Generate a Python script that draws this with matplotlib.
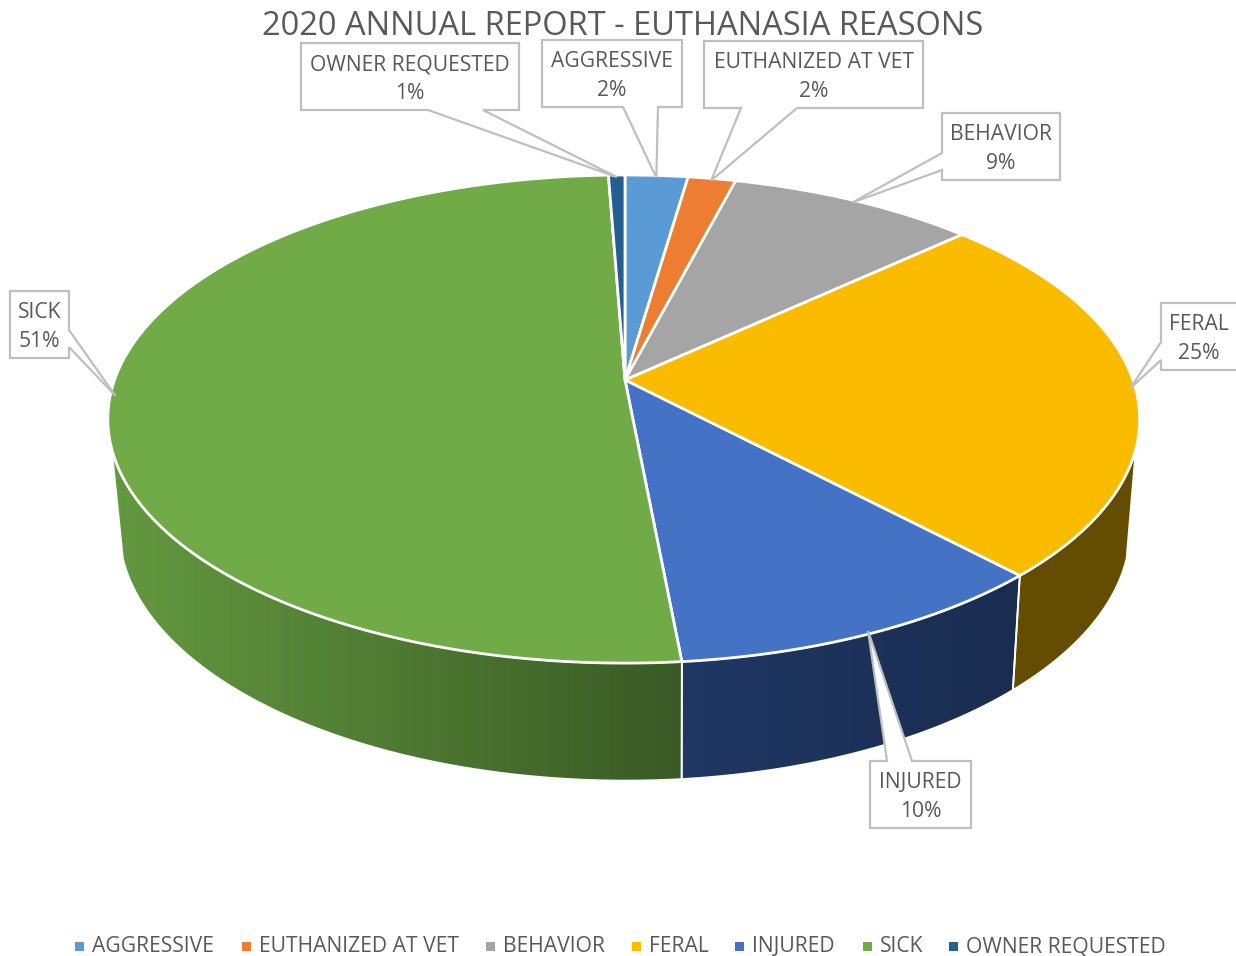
import numpy as np
import matplotlib
matplotlib.use("Agg")
import matplotlib.pyplot as plt
from matplotlib.patches import Polygon

categories = ["AGGRESSIVE", "EUTHANIZED AT VET", "BEHAVIOR", "FERAL", "INJURED", "SICK", "OWNER REQUESTED"]
values = [2.3, 1.75, 9.1, 24.8, 10.55, 50.9, 0.6]
pct_labels = ["2%", "2%", "9%", "25%", "10%", "51%", "1%"]
colors = ["#5B9BD5", "#ED7D31", "#A5A5A5", "#FBBC00", "#4472C4", "#70AB47", "#255E91"]
legend_x = [75, 242, 486, 632, 735, 863, 949]

TEXT = "#595959"
BORDER = "#BFBFBF"
FONT = "Open Sans"

# perspective of the disc, in pixels
CX, CY = 625, 380
A_RIGHT, A_LEFT, B, K = 508, 510.5, 237.8, 0.16
SIDE_START, SIDE_END = 106, 254


def top_edge(deg):
    t = np.radians(deg)
    u, v = np.sin(t), -np.cos(t)
    w = 1 - K * v
    return CX + np.where(u < 0, A_LEFT, A_RIGHT) * u / w, CY + B * v / w


def bottom_edge(deg):
    x, y = top_edge(deg)
    return 623 + 0.98 * (x - 623) + 1, y + 114.5 + 0.035 * (y - 577)


def arc(func, a, b):
    xs, ys = func(np.linspace(a, b, 200))
    return np.column_stack([xs, ys])


def callout(box, base, tip, side):
    x0, y0, x1, y1 = box
    b0, b1 = base
    if side == "bottom":
        pts = [(x0, y0), (x1, y0), (x1, y1), (b1, y1), tip, (b0, y1), (x0, y1)]
    elif side == "top":
        pts = [(x0, y0), (b0, y0), tip, (b1, y0), (x1, y0), (x1, y1), (x0, y1)]
    elif side == "left":
        pts = [(x0, y0), (x1, y0), (x1, y1), (x0, y1), (x0, b1), tip, (x0, b0)]
    else:
        pts = [(x0, y0), (x1, y0), (x1, b0), tip, (x1, b1), (x1, y1), (x0, y1)]
    ax.add_patch(Polygon(pts, closed=True, fc="white", ec=BORDER, lw=1.6, zorder=5, clip_on=False))
    return (x0 + x1) / 2, y0


fig = plt.figure(figsize=(12.36, 9.56), dpi=100)
ax = fig.add_axes([0, 0, 1, 1])
ax.axis("off")

cum = np.concatenate([[0], np.cumsum(values)]) / np.sum(values) * 360

# side wall, only the three front slices show
side_gradients = {"SICK": ("#63993F", "#3A5A25"), "INJURED": ("#1F3864", "#1A2C50"), "FERAL": ("#644D00", "#644D00")}
for i, name in enumerate(categories):
    if name not in side_gradients:
        continue
    a, b = max(cum[i], SIDE_START), min(cum[i + 1], SIDE_END)
    poly = np.vstack([arc(top_edge, a, b), arc(bottom_edge, b, a)])
    patch = Polygon(poly, closed=True, fc="none", ec="none")
    ax.add_patch(patch)
    c0, c1 = side_gradients[name]
    left = np.array(matplotlib.colors.to_rgb(c0))
    right = np.array(matplotlib.colors.to_rgb(c1))
    ramp = np.linspace(0, 1, 256)[None, :, None]
    img = left[None, None, :] * (1 - ramp) + right[None, None, :] * ramp
    im = ax.imshow(img, extent=[poly[:, 0].min(), poly[:, 0].max(), poly[:, 1].max(), poly[:, 1].min()],
                   aspect="auto", zorder=1, interpolation="bilinear")
    im.set_clip_path(patch)
    ax.add_patch(Polygon(poly, closed=True, fc="none", ec="white", lw=1.3, zorder=2))
ax.set_xlim(0, 1236)
ax.set_ylim(956, 0)

# top face
for i, c in enumerate(colors):
    poly = np.vstack([[CX, CY], arc(top_edge, cum[i], cum[i + 1])])
    ax.add_patch(Polygon(poly, closed=True, fc=c, ec="white", lw=2, zorder=3, joinstyle="round"))

# data label callouts
boxes = [(542, 40, 682, 107), (704, 41, 923, 108), (942, 113, 1060, 180), (1161, 303, 1250, 370),
         (870, 761, 971, 828), (10, 291, 69, 358), (301, 43, 519, 110)]
bases = [(623, 658), (741, 797), (153, 170), (342, 360), (887, 912), (330, 347), (428, 483)]
sides = ["bottom", "bottom", "left", "left", "top", "right", "bottom"]
for i, name in enumerate(categories):
    mid = (cum[i] + cum[i + 1]) / 2
    tx, ty = top_edge(mid)
    tip = (CX + 0.99 * (tx - CX), CY + 0.99 * (ty - CY))
    xc, y0 = callout(boxes[i], bases[i], tip, sides[i])
    if name == "FERAL":
        xc = 1199
    ax.text(xc, y0 + 21.5, name, ha="center", va="center", fontsize=15.2, color=TEXT, family=FONT, zorder=6)
    ax.text(xc, y0 + 50.5, pct_labels[i], ha="center", va="center", fontsize=15.2, color=TEXT, family=FONT, zorder=6)

ax.text(623, 26, "2020 ANNUAL REPORT - EUTHANASIA REASONS", ha="center", va="center",
        fontsize=23.5, color=TEXT, family=FONT)

# legend
for i, name in enumerate(categories):
    ax.add_patch(plt.Rectangle((legend_x[i], 942), 9, 9, fc=colors[i], ec="none"))
    ax.text(legend_x[i] + 17, 947, name, ha="left", va="center", fontsize=15.2, color=TEXT, family=FONT)

fig.savefig("out.png", dpi=100)
plt.close(fig)
